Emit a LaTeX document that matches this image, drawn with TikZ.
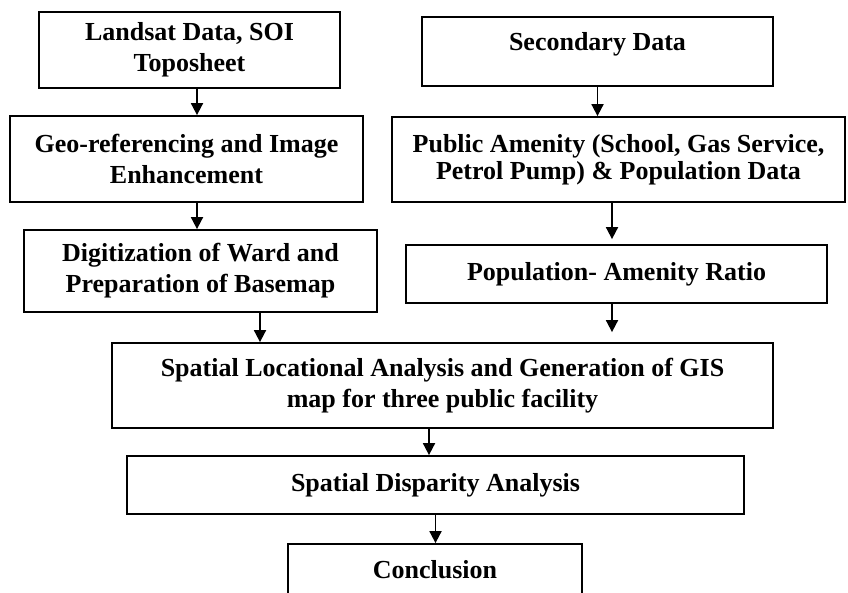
\documentclass[tikz,border=0pt]{standalone}
\usepackage{fontspec}
\setmainfont{Liberation Serif}
\usetikzlibrary{arrows.meta}

\tikzset{
	box/.style={draw, line width=1.8pt, align=center, inner sep=0pt,
		font=\fontsize{26}{31}\selectfont\bfseries},
	arr/.style={line width=1.8pt, -{Triangle[length=12pt,width=12pt]}}
}

\begin{document}
\begin{tikzpicture}[x=1pt, y=-1pt]
		\clip (0,0) rectangle (848,592);
		%Left column
			\node[box, minimum width=301pt, minimum height=76pt] (landsat) at (189.5,50) {Landsat Data, SOI\\Toposheet};
			\node[box, minimum width=353pt, minimum height=86pt] (georef) at (186.5,159) {Geo-referencing and Image\\Enhancement};
			\node[box, minimum width=353pt, minimum height=82pt] (digit) at (200.5,271) {Digitization of Ward and\\Preparation of Basemap};
		%Right column
			\node[box, minimum width=351pt, minimum height=69pt] (secondary) at (597.5,51.5) {\raisebox{7pt}[\height][\depth]{Secondary Data}};
			\node[box, minimum width=453pt, minimum height=85pt] (amenity) at (618.5,159.5) {Public Amenity (School, Gas Service,\\[-4pt]Petrol Pump) \& Population Data};
			\node[box, minimum width=421pt, minimum height=58pt] (ratio) at (616.5,274) {Population- Amenity Ratio};
		%Joint steps
			\node[box, minimum width=661pt, minimum height=85pt] (spatial) at (442.5,385.5) {Spatial Locational Analysis and Generation of GIS\\map for three public facility};
			\node[box, minimum width=617pt, minimum height=58pt] (disparity) at (435.5,485) {Spatial Disparity Analysis};
			\node[box, minimum width=294pt, minimum height=52pt] (concl) at (435,570) {Conclusion};
		%Arrows
			\draw[arr] ([xshift=7.5pt]landsat.south) -- ([xshift=7.5pt]landsat.south |- georef.north);
			\draw[arr] ([xshift=10.5pt]georef.south) -- ([xshift=10.5pt]georef.south |- digit.north);
			\draw[arr] ([xshift=59.5pt]digit.south) -- ([xshift=59.5pt]digit.south |- spatial.north);
			\draw[arr] (secondary.south) -- (secondary.south |- amenity.north);
			\draw[arr, shorten >=5pt] ([xshift=-6.5pt]amenity.south) -- ([xshift=-6.5pt]amenity.south |- ratio.north);
			\draw[arr, shorten >=10pt] ([xshift=-4.5pt]ratio.south) -- ([xshift=-4.5pt]ratio.south |- spatial.north);
			\draw[arr] ([xshift=-13.5pt]spatial.south) -- ([xshift=-13.5pt]spatial.south |- disparity.north);
			\draw[arr] (disparity.south) -- (disparity.south |- concl.north);
	\end{tikzpicture}
\end{document}
